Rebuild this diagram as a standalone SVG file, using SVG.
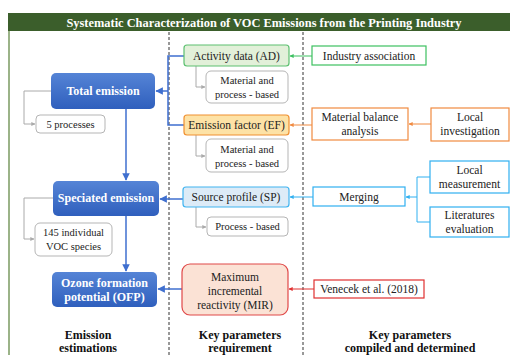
<svg xmlns="http://www.w3.org/2000/svg" width="510" height="355" viewBox="0 0 510 355">
<defs>
<linearGradient id="gb" x1="0" y1="0" x2="0" y2="1">
<stop offset="0" stop-color="#5584d6"/>
<stop offset="1" stop-color="#2f5fbd"/>
</linearGradient>
<marker id="ab" viewBox="0 0 6 6" refX="5.5" refY="3" markerWidth="5" markerHeight="5" orient="auto"><path d="M0,0 L6,3 L0,6 z" fill="#3f6fcf"/></marker>
<marker id="ag" viewBox="0 0 6 6" refX="5.5" refY="3" markerWidth="4" markerHeight="4" orient="auto"><path d="M0,0 L6,3 L0,6 z" fill="#aaaaaa"/></marker>
<marker id="agr" viewBox="0 0 6 6" refX="5.5" refY="3" markerWidth="4" markerHeight="4" orient="auto"><path d="M0,0 L6,3 L0,6 z" fill="#3cc060"/></marker>
<marker id="ao" viewBox="0 0 6 6" refX="5.5" refY="3" markerWidth="4" markerHeight="4" orient="auto"><path d="M0,0 L6,3 L0,6 z" fill="#f08a40"/></marker>
<marker id="alb" viewBox="0 0 6 6" refX="5.5" refY="3" markerWidth="4" markerHeight="4" orient="auto"><path d="M0,0 L6,3 L0,6 z" fill="#30b0f0"/></marker>
<marker id="ar" viewBox="0 0 6 6" refX="5.5" refY="3" markerWidth="4" markerHeight="4" orient="auto"><path d="M0,0 L6,3 L0,6 z" fill="#e03030"/></marker>
</defs>
<style>
text{font-family:"Liberation Serif",Tinos,"Times New Roman",serif;text-anchor:middle;fill:#222}
.t{font-size:12.4px;font-weight:bold;fill:#fff}
.bn{fill:url(#gb)}
.bt{font-size:12px;font-weight:bold;fill:#fff}
.g{fill:#fff;stroke:#b5b5b5;stroke-width:1}
.s{font-size:10.5px}
.m{font-size:11.5px}
.h{font-size:12px;font-weight:bold;fill:#111}
.dash{stroke:#333;stroke-width:1;stroke-dasharray:3,2}
.cb{stroke:#3f6fcf;stroke-width:1.5;fill:none}
.cg{stroke:#aaaaaa;stroke-width:1;fill:none}
.cgr{stroke:#3cc060;stroke-width:1;fill:none}
.co{stroke:#f08a40;stroke-width:1;fill:none}
.clb{stroke:#30b0f0;stroke-width:1;fill:none}
.cr{stroke:#e03030;stroke-width:1;fill:none}
</style>
<rect width="510" height="355" fill="#fff"/>
<g id="frame">
<rect x="8" y="13" width="502" height="18" fill="#3b5e2b"/>
<line x1="9" y1="31" x2="9" y2="355" stroke="#7a9a60" stroke-width="1.5"/>
<text class="t" x="264" y="27">Systematic Characterization of VOC Emissions from the Printing Industry</text>
<line class="dash" x1="169" y1="32" x2="169" y2="355"/>
<line class="dash" x1="303" y1="32" x2="303" y2="355"/>
</g>
<g id="connectors">
<path class="cg" d="M51,91 H24 V124 H35" marker-end="url(#ag)"/>
<path class="cg" d="M53,198 H24 V239 H34" marker-end="url(#ag)"/>
<path class="cb" d="M126,109 V180" marker-end="url(#ab)"/>
<path class="cb" d="M126,216 V271" marker-end="url(#ab)"/>
<path class="cb" d="M184,56 H168 V125 H184"/>
<path class="cb" d="M168,91 H156" marker-end="url(#ab)"/>
<path class="cb" d="M183,199 H160" marker-end="url(#ab)"/>
<path class="cb" d="M182,289 H158" marker-end="url(#ab)"/>
<path class="cg" d="M196,66 V87 H205" marker-end="url(#ag)"/>
<path class="cg" d="M196,135 V156 H205" marker-end="url(#ag)"/>
<path class="cg" d="M196,207 V227 H206" marker-end="url(#ag)"/>
<path class="cgr" d="M312,56 H290" marker-end="url(#agr)"/>
<path class="co" d="M312,125 H290" marker-end="url(#ao)"/>
<path class="co" d="M431,124 H409" marker-end="url(#ao)"/>
<path class="clb" d="M313,197 H290" marker-end="url(#alb)"/>
<path class="clb" d="M430,177 H417 V222 H430"/>
<path class="clb" d="M417,197 H406" marker-end="url(#alb)"/>
<path class="cr" d="M314,289 H289" marker-end="url(#ar)"/>
</g>
<g id="total">
<rect class="bn" x="51" y="73" width="104" height="36" rx="5"/>
<text class="bt" x="103" y="95">Total emission</text>
</g>
<g id="processes5">
<rect class="g" x="36" y="115" width="69" height="18" rx="4"/>
<text class="s" x="70.5" y="128">5 processes</text>
</g>
<g id="speciated">
<rect class="bn" x="53" y="181" width="106" height="35" rx="5"/>
<text class="bt" x="106" y="202">Speciated emission</text>
</g>
<g id="species145">
<rect class="g" x="35" y="223" width="77" height="33" rx="5"/>
<text class="s" x="73.5" y="236">145 individual</text>
<text class="s" x="73.5" y="250">VOC species</text>
</g>
<g id="ofp">
<rect class="bn" x="52" y="272" width="105" height="35" rx="5"/>
<text class="bt" x="104.5" y="287">Ozone formation</text>
<text class="bt" x="104.5" y="301">potential (OFP)</text>
</g>
<g id="ad">
<rect x="184" y="45" width="105" height="21" rx="3" fill="#e2f0d9" stroke="#5cc070" stroke-width="1.2"/>
<text class="m" x="236.5" y="60">Activity data (AD)</text>
</g>
<g id="mat1">
<rect class="g" x="206" y="71" width="82" height="32" rx="5"/>
<text class="s" x="247" y="84">Material and</text>
<text class="s" x="247" y="98">process - based</text>
</g>
<g id="ef">
<rect x="184" y="115" width="105" height="20" rx="3" fill="#fde2a6" stroke="#f09030" stroke-width="1.2"/>
<text class="m" x="236.5" y="129">Emission factor (EF)</text>
</g>
<g id="mat2">
<rect class="g" x="206" y="139" width="82" height="33" rx="5"/>
<text class="s" x="247" y="153">Material and</text>
<text class="s" x="247" y="167">process - based</text>
</g>
<g id="sp">
<rect x="183" y="187" width="106" height="20" rx="3" fill="#ddebf7" stroke="#40b4f0" stroke-width="1.2"/>
<text class="m" x="236" y="201">Source profile (SP)</text>
</g>
<g id="procbased">
<rect class="g" x="207" y="217" width="81" height="19" rx="4"/>
<text class="s" x="247.5" y="230">Process - based</text>
</g>
<g id="mir">
<rect x="182" y="264" width="106" height="51" rx="8" fill="#fbe2d5" stroke="#e04848" stroke-width="1.2"/>
<text class="m" x="235" y="281">Maximum</text>
<text class="m" x="235" y="295">incremental</text>
<text class="m" x="235" y="309">reactivity (MIR)</text>
</g>
<g id="industry">
<rect x="312" y="46" width="114" height="19" fill="#fff" stroke="#3cc060" stroke-width="1.2"/>
<text class="m" x="369" y="60">Industry association</text>
</g>
<g id="mba">
<rect x="312" y="108" width="96" height="32" fill="#fff" stroke="#f08a40" stroke-width="1.2"/>
<text class="m" x="360" y="121">Material balance</text>
<text class="m" x="360" y="135">analysis</text>
</g>
<g id="localinv">
<rect x="431" y="108" width="78" height="33" fill="#fff" stroke="#f08a40" stroke-width="1.2"/>
<text class="m" x="470" y="121">Local</text>
<text class="m" x="470" y="135">investigation</text>
</g>
<g id="merging">
<rect x="313" y="187" width="92" height="19" fill="#fff" stroke="#30b0f0" stroke-width="1.2"/>
<text class="m" x="359" y="201">Merging</text>
</g>
<g id="localmeas">
<rect x="430" y="161" width="79" height="32" fill="#fff" stroke="#30b0f0" stroke-width="1.2"/>
<text class="m" x="469.5" y="174">Local</text>
<text class="m" x="469.5" y="188">measurement</text>
</g>
<g id="literature">
<rect x="430" y="207" width="79" height="30" fill="#fff" stroke="#30b0f0" stroke-width="1.2"/>
<text class="m" x="469.5" y="219">Literatures</text>
<text class="m" x="469.5" y="233">evaluation</text>
</g>
<g id="venecek">
<rect x="314" y="280" width="110" height="18" fill="#fff" stroke="#e03030" stroke-width="1.2"/>
<text class="m" x="369" y="293">Venecek et al. (2018)</text>
</g>
<g id="labels">
<text class="h" x="88" y="339">Emission</text>
<text class="h" x="88" y="352">estimations</text>
<text class="h" x="240" y="339">Key parameters</text>
<text class="h" x="240" y="352">requirement</text>
<text class="h" x="410" y="339">Key parameters</text>
<text class="h" x="410" y="352">compiled and determined</text>
</g>
</svg>
